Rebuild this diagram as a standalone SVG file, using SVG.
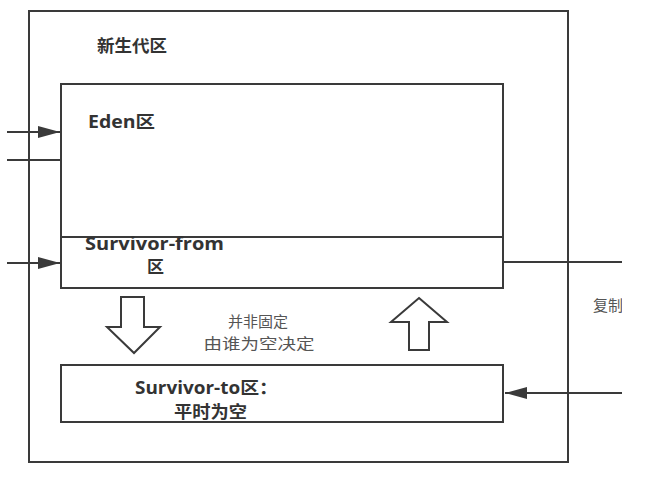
<svg xmlns="http://www.w3.org/2000/svg" width="652" height="485" viewBox="0 0 652 485">
<defs>
<style>
.box{fill:none;stroke:#3a3a3a;stroke-width:2}
.ln{fill:none;stroke:#3a3a3a;stroke-width:2}
.blk{fill:#fff;stroke:#3a3a3a;stroke-width:2;stroke-linejoin:miter}
.b{font-family:"Open Sans","Noto Sans CJK SC",sans-serif;font-weight:bold;font-size:17px;fill:#333}
.n{font-family:"Noto Sans CJK SC",sans-serif;font-size:15px;fill:#555}
</style>
<marker id="ah" markerWidth="22" markerHeight="12" refX="22" refY="6" orient="auto" markerUnits="userSpaceOnUse">
<path d="M0,0 L22,6 L0,12 Z" fill="#3a3a3a"/>
</marker>
<clipPath id="clipR"><rect x="0" y="0" width="622" height="485"/></clipPath>
</defs>
<rect width="652" height="485" fill="#fff"/>
<g id="young">
<rect class="box" x="29" y="11" width="539" height="451"/>
<text class="b" x="97" y="52" textLength="70" lengthAdjust="spacingAndGlyphs">新生代区</text>
</g>
<g id="eden">
<rect class="box" x="61" y="84" width="442" height="153"/>
<text class="b" x="88" y="128" textLength="67" lengthAdjust="spacingAndGlyphs">Eden区</text>
</g>
<g id="survivor-from">
<rect class="box" x="61" y="237" width="442" height="51"/>
<text class="b" x="85" y="250" textLength="139" lengthAdjust="spacingAndGlyphs">Survivor-from</text>
<text class="b" x="147" y="273">区</text>
</g>
<g id="survivor-to">
<rect class="box" x="61" y="365" width="442" height="57"/>
<text class="b" x="135" y="394" textLength="143" lengthAdjust="spacingAndGlyphs">Survivor-to区：</text>
<text class="b" x="174" y="418" textLength="73" lengthAdjust="spacingAndGlyphs">平时为空</text>
</g>
<g id="note">
<text class="n" x="258" y="327" text-anchor="middle">并非固定</text>
<text class="n" x="259" y="349" text-anchor="middle" textLength="111" lengthAdjust="spacingAndGlyphs">由谁为空决定</text>
</g>
<g id="copy-label" clip-path="url(#clipR)">
<text class="n" x="593" y="311">复制</text>
</g>
<g id="connectors">
<line class="ln" x1="7" y1="132" x2="60" y2="132" marker-end="url(#ah)"/>
<line class="ln" x1="7" y1="160" x2="61" y2="160"/>
<line class="ln" x1="7" y1="263" x2="60" y2="263" marker-end="url(#ah)"/>
<line class="ln" x1="503" y1="262" x2="622" y2="262"/>
<line class="ln" x1="622" y1="393" x2="505" y2="393" marker-end="url(#ah)"/>
<polygon class="blk" points="121,297 144,297 144,327 160,327 134,353 107,327 121,327"/>
<polygon class="blk" points="419,298 447,322 429,322 429,350 409,350 409,322 391,322"/>
</g>
</svg>
